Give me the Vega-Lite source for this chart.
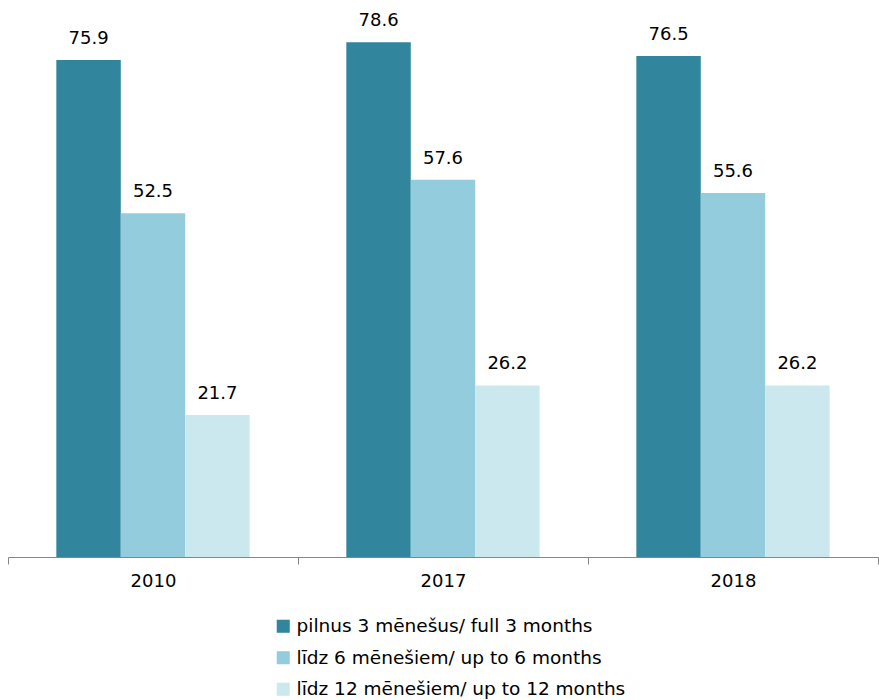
{
  "$schema": "https://vega.github.io/schema/vega-lite/v6.json",
  "width": 870,
  "height": 557,
  "autosize": {"type": "none"},
  "padding": {"left": 8, "top": 0, "right": 1, "bottom": 143},
  "background": "white",
  "config": {
    "view": {"stroke": null},
    "font": "DejaVu Sans"
  },
  "data": {
    "values": [
      {"year": "2010", "series": "pilnus 3 mēnešus/ full 3 months", "value": 75.9},
      {"year": "2010", "series": "līdz 6 mēnešiem/ up to 6 months", "value": 52.5},
      {"year": "2010", "series": "līdz 12 mēnešiem/ up to 12 months", "value": 21.7},
      {"year": "2017", "series": "pilnus 3 mēnešus/ full 3 months", "value": 78.6},
      {"year": "2017", "series": "līdz 6 mēnešiem/ up to 6 months", "value": 57.6},
      {"year": "2017", "series": "līdz 12 mēnešiem/ up to 12 months", "value": 26.2},
      {"year": "2018", "series": "pilnus 3 mēnešus/ full 3 months", "value": 76.5},
      {"year": "2018", "series": "līdz 6 mēnešiem/ up to 6 months", "value": 55.6},
      {"year": "2018", "series": "līdz 12 mēnešiem/ up to 12 months", "value": 26.2}
    ]
  },
  "encoding": {
    "x": {
      "field": "year", "type": "nominal",
      "scale": {"paddingInner": 0, "paddingOuter": 0},
      "axis": {
        "title": null, "labelAngle": 0, "labelFontSize": 18, "labelColor": "#000000",
        "domainColor": "#868686", "tickColor": "#868686", "tickSize": 7,
        "tickBand": "extent", "labelPadding": 8, "grid": false
      }
    },
    "xOffset": {
      "field": "series", "type": "nominal",
      "sort": ["pilnus 3 mēnešus/ full 3 months", "līdz 6 mēnešiem/ up to 6 months", "līdz 12 mēnešiem/ up to 12 months"],
      "scale": {"paddingInner": 0, "paddingOuter": 0.75}
    },
    "y": {
      "field": "value", "type": "quantitative",
      "scale": {"domain": [0, 85.06], "nice": false},
      "axis": null
    }
  },
  "layer": [
    {
      "mark": {"type": "bar"},
      "encoding": {
        "color": {
          "field": "series", "type": "nominal",
          "sort": ["pilnus 3 mēnešus/ full 3 months", "līdz 6 mēnešiem/ up to 6 months", "līdz 12 mēnešiem/ up to 12 months"],
          "scale": {
            "domain": ["pilnus 3 mēnešus/ full 3 months", "līdz 6 mēnešiem/ up to 6 months", "līdz 12 mēnešiem/ up to 12 months"],
            "range": ["#31859C", "#93CDDD", "#CCE8EF"]
          },
          "legend": {
            "title": null, "orient": "none", "legendX": 266, "legendY": 617,
            "symbolType": "square", "symbolSize": 170, "symbolStrokeWidth": 0,
            "labelFontSize": 18.5, "labelColor": "#000000", "labelOffset": 4,
            "rowPadding": 12.5, "labelLimit": 500
          }
        }
      }
    },
    {
      "mark": {"type": "text", "baseline": "alphabetic", "dy": -16, "fontSize": 18, "color": "#000000"},
      "encoding": {
        "text": {"field": "value", "type": "quantitative", "format": ".1f"}
      }
    }
  ]
}
